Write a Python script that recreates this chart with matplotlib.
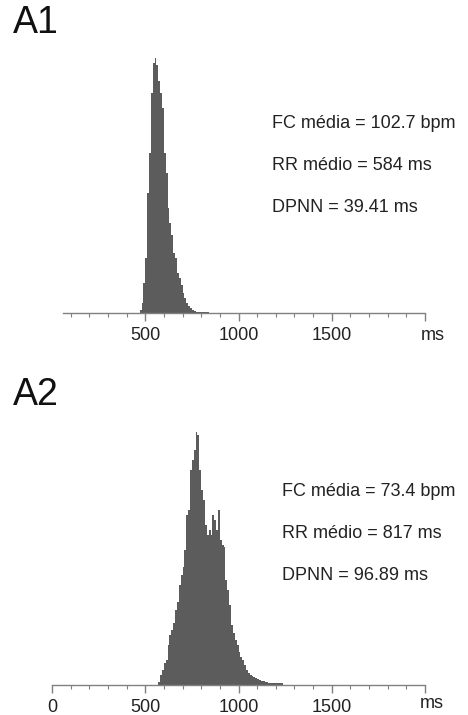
import numpy as np
import matplotlib
matplotlib.use('Agg')
import matplotlib.pyplot as plt

plt.rcParams['font.family'] = ['Liberation Sans', 'DejaVu Sans']

# histograma A1 (intervalos RR, bins de 10 ms a partir de 470 ms)
a1_start = 470
a1_counts = [3, 10, 30, 55, 120, 160, 220, 250, 255, 248, 232, 220, 205, 160,
             140, 105, 90, 78, 60, 55, 40, 35, 28, 20, 15, 10, 7, 5, 3, 2,
             1, 1, 1, 1, 1, 1, 1]

# histograma A2 (bins de 10 ms a partir de 570 ms)
a2_start = 570
a2_counts = [3, 10, 15, 22, 25, 40, 50, 55, 62, 75, 83, 100, 110, 118, 135,
             170, 175, 215, 225, 235, 253, 250, 215, 195, 185, 160, 150, 155,
             150, 170, 165, 155, 175, 145, 140, 138, 105, 95, 80, 60, 52, 45,
             40, 33, 28, 25, 20, 15, 12, 10, 9, 8, 7, 6, 5, 4, 4, 3, 3, 2, 2,
             2, 2, 2, 2, 2, 2]
bin_w = 10

a1_text = ['FC média = 102.7 bpm', 'RR médio = 584 ms', 'DPNN = 39.41 ms']
a2_text = ['FC média = 73.4 bpm', 'RR médio = 817 ms', 'DPNN = 96.89 ms']

major = [0, 500, 1000, 1500, 2000]
minor = [v for v in range(100, 2000, 100) if v % 500 != 0]

W, H = 468, 715
fig = plt.figure(figsize=(W / 100, H / 100), dpi=100)

bar_col = '#5c5c5c'
ax_col = '#808080'


def panel(bottom_px, height_px, start, counts, labels0, spine_from, texts, tx, ty, ymax):
    ax = fig.add_axes([52 / W, 1 - bottom_px / H, 373 / W, height_px / H])
    edges = start + bin_w * np.arange(len(counts) + 1)
    ax.stairs(counts, edges, fill=True, color=bar_col, linewidth=0)
    ax.set_xlim(0, 2000)
    ax.set_ylim(0, ymax)
    for s in ['top', 'right', 'left']:
        ax.spines[s].set_visible(False)
    ax.spines['bottom'].set_color(ax_col)
    ax.spines['bottom'].set_linewidth(1)
    ax.spines['bottom'].set_bounds(spine_from, 2000)
    ax.set_yticks([])
    if labels0:
        ax.set_xticks(major)
        ax.set_xticklabels(['0', '500', '1000', '1500', ''])
    else:
        ax.set_xticks(major[1:])
        ax.set_xticklabels(['500', '1000', '1500', ''])
    ax.set_xticks(minor, minor=True)
    ax.tick_params(axis='x', which='major', length=6, width=1, color=ax_col,
                   labelsize=13, pad=4, labelcolor='#222222')
    ax.tick_params(axis='x', which='minor', length=3, width=0.8, color=ax_col)
    ax.patch.set_alpha(0)
    for i, t in enumerate(texts):
        fig.text(tx / W, 1 - (ty + 42 * i) / H, t, fontsize=13, color='#222222',
                 ha='left', va='center')
    return ax


panel(313, 263, a1_start, a1_counts, False, 60, a1_text, 272, 123, 263)
panel(685, 255, a2_start, a2_counts, True, 0, a2_text, 282, 492, 255)

fig.text(433 / W, 1 - 335 / H, 'ms', fontsize=13, color='#222222', ha='center', va='center')
fig.text(432 / W, 1 - 703 / H, 'ms', fontsize=13, color='#222222', ha='center', va='center')

fig.text(13 / W, 1 - 23 / H, 'A1', fontsize=27, color='#111111', ha='left', va='center')
fig.text(13 / W, 1 - 395 / H, 'A2', fontsize=27, color='#111111', ha='left', va='center')

fig.savefig('out.png', dpi=100)
